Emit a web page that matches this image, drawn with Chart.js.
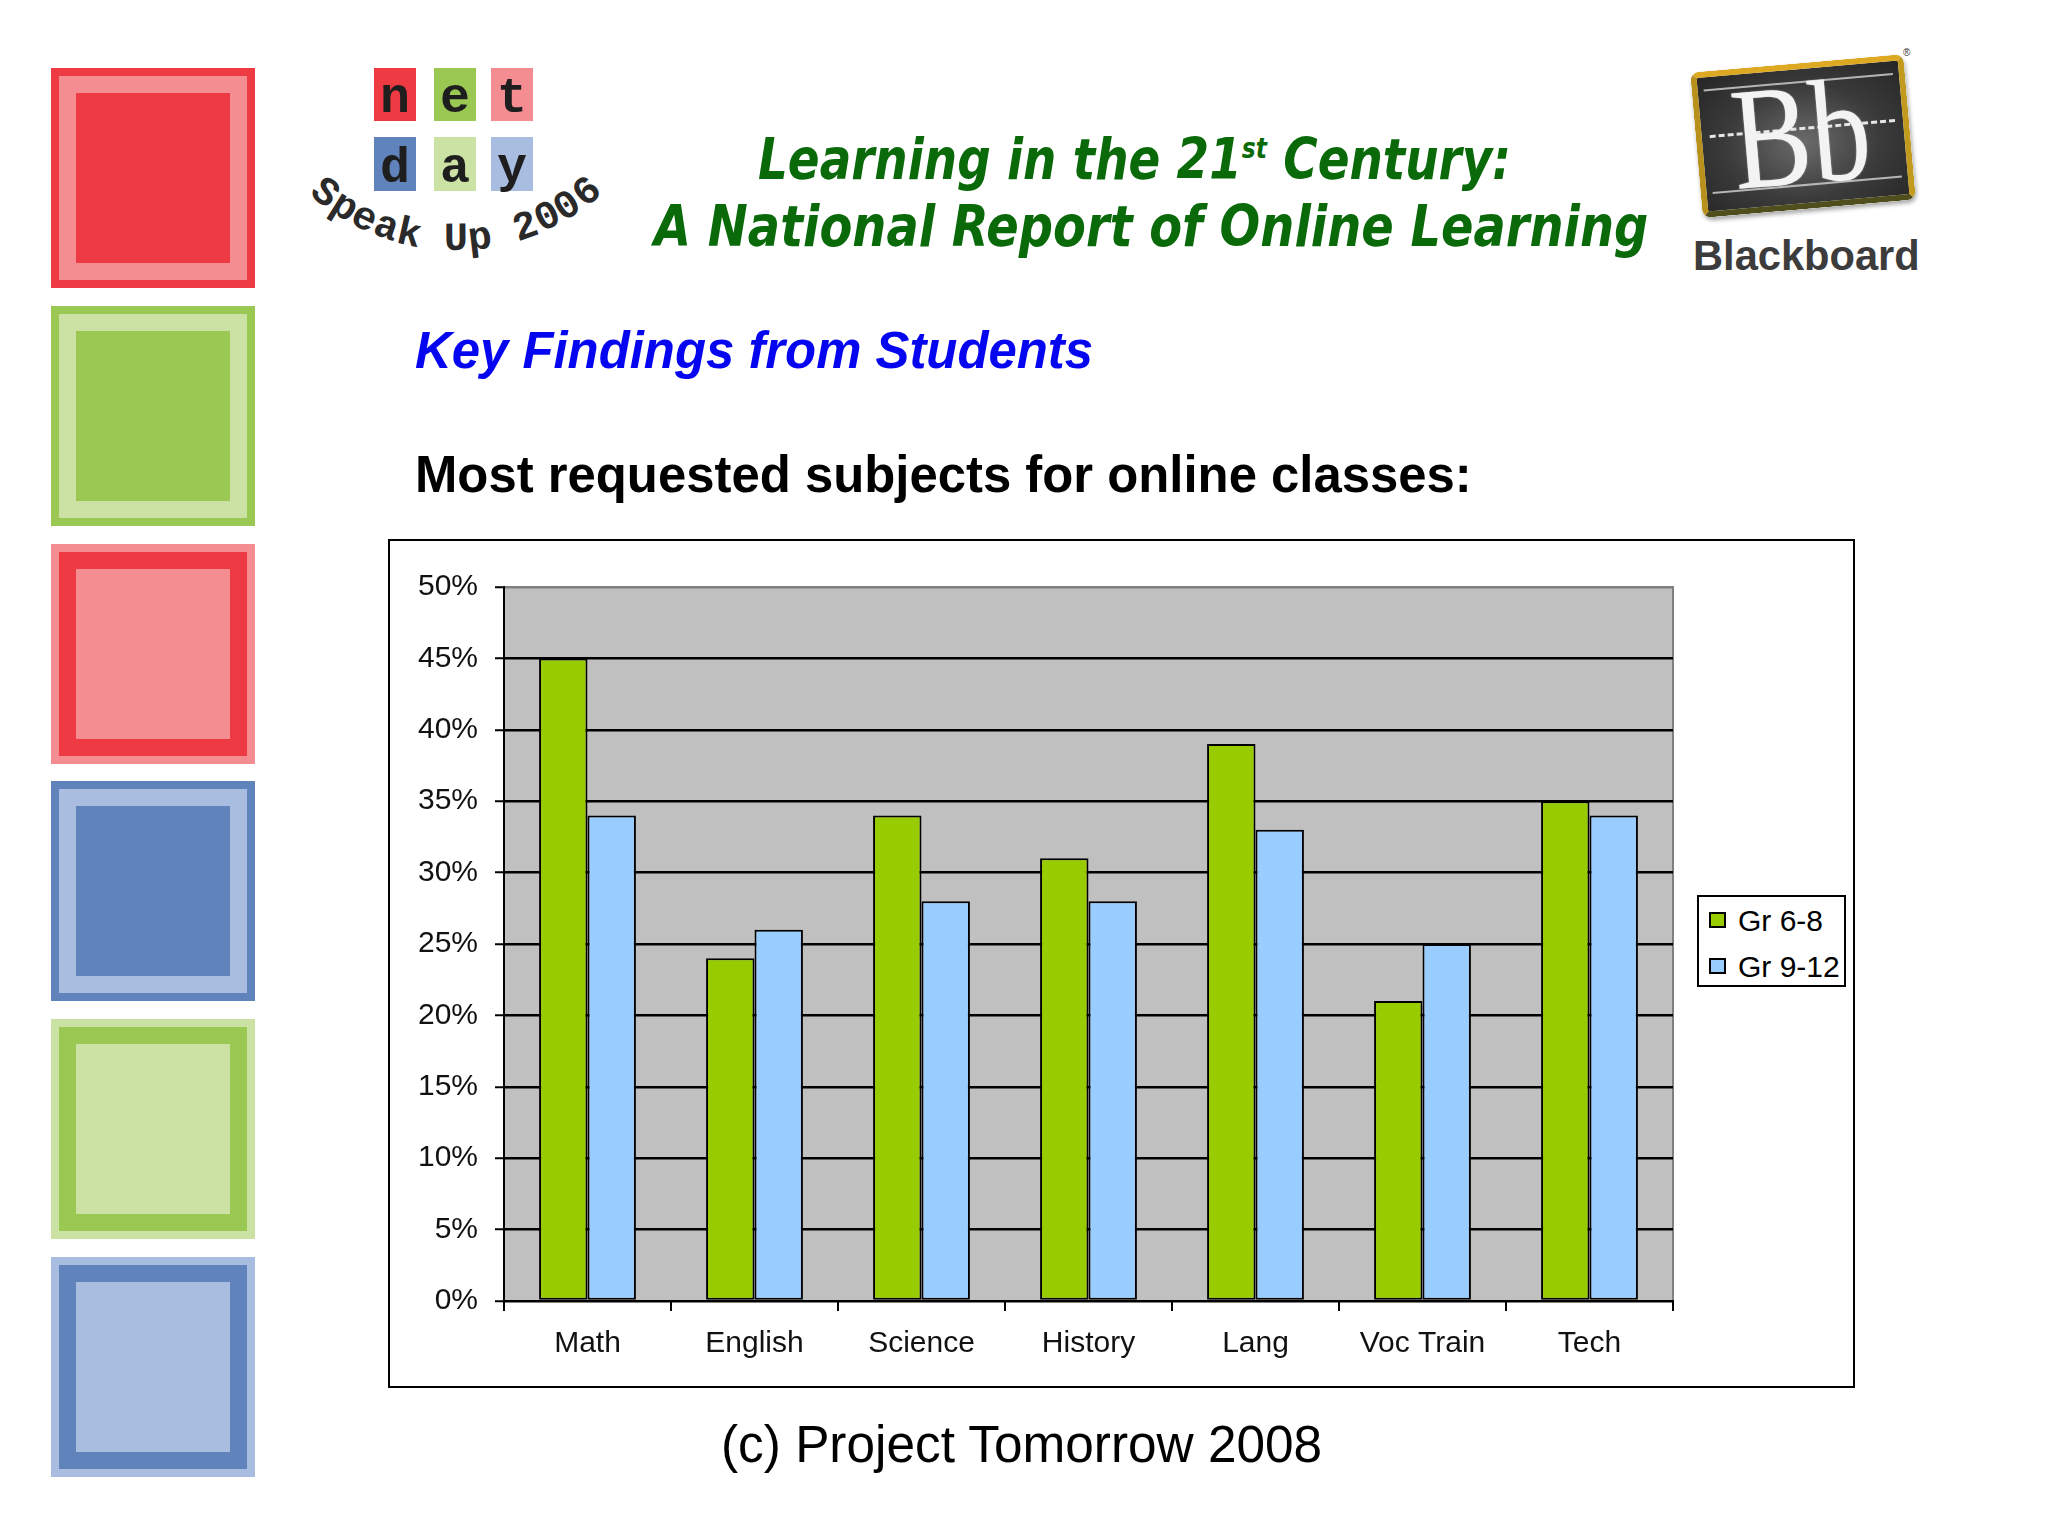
<!DOCTYPE html>
<html><head><meta charset="utf-8">
<script src="https://cdn.jsdelivr.net/npm/chart.js@4.4.1/dist/chart.umd.min.js"></script>
<style>
html,body{margin:0;padding:0;background:#fff;}
#page{position:relative;width:2048px;height:1536px;overflow:hidden;background:#fff;font-family:"Liberation Sans",Arial,sans-serif;}
.sq{position:absolute;box-sizing:border-box;width:188px;height:204px;left:59px;}
.box{position:absolute;width:42px;height:53px;}
.txt{position:absolute;white-space:nowrap;line-height:1;}
.nd{font-family:"Liberation Mono","Courier New",monospace;font-weight:bold;font-size:50px;color:#1e1e1e;}
.arc{position:absolute;white-space:nowrap;line-height:1;font-family:"Liberation Mono","Courier New",monospace;font-weight:bold;font-size:40px;color:#2a2a2a;}
#chartBox{position:absolute;left:388px;top:539px;width:1467px;height:849px;border:2px solid #000;box-sizing:border-box;background:#fff;}
#chart{position:absolute;left:0;top:0;}
#legend{position:absolute;left:1697px;top:895px;width:149px;height:92px;border:2px solid #000;box-sizing:border-box;background:#fff;}
.lgsw{position:absolute;width:17px;height:16px;border:2px solid #000;box-sizing:border-box;}
#board{position:absolute;left:1696px;top:63px;width:214px;height:146px;box-sizing:border-box;border:6px solid;border-color:#DDA923 #C29A1E #4F4E1C #B8901C;border-radius:9px;background:radial-gradient(ellipse at 50% 55%,#6b6b6b 0%,#3a3a3a 55%,#262626 100%);transform:rotate(-5deg);box-shadow:1px 3px 4px rgba(0,0,0,0.35);}
.bline{position:absolute;left:6px;right:6px;height:2px;background:#b5b5b5;}
</style></head>
<body><div id="page">

<div class="sq" style="top:76px;background:#EE3A43;border:17px solid #F48D92;outline:8px solid #EE3A43"></div>
<div class="sq" style="top:314px;background:#9BC853;border:17px solid #CCE2A5;outline:8px solid #9BC853"></div>
<div class="sq" style="top:552px;background:#F48D92;border:17px solid #EE3A43;outline:8px solid #F48D92"></div>
<div class="sq" style="top:789px;background:#5F83BA;border:17px solid #A9BDE0;outline:8px solid #5F83BA"></div>
<div class="sq" style="top:1027px;background:#CCE2A5;border:17px solid #9BC853;outline:8px solid #CCE2A5"></div>
<div class="sq" style="top:1265px;background:#A9BDE0;border:17px solid #5F83BA;outline:8px solid #A9BDE0"></div>

<div class="box" style="left:374px;top:68px;background:#EE3A43"></div>
<div class="box" style="left:434px;top:68px;background:#9BC853"></div>
<div class="box" style="left:491px;top:68px;background:#F48D92"></div>
<div class="box" style="left:374px;top:137px;height:54px;background:#5F83BA"></div>
<div class="box" style="left:434px;top:137px;height:54px;background:#CCE2A5"></div>
<div class="box" style="left:491px;top:137px;height:54px;background:#A9BDE0"></div>
<div class="txt nd" id="nd_n">n</div>
<div class="txt nd" id="nd_e">e</div>
<div class="txt nd" id="nd_t">t</div>
<div class="txt nd" id="nd_d">d</div>
<div class="txt nd" id="nd_a">a</div>
<div class="txt nd" id="nd_y">y</div>
<div id="arcText"></div>

<div class="txt" id="title1" style="font-family:'DejaVu Sans',sans-serif;font-weight:bold;font-style:italic;font-size:57px;color:#0A6A0A">Learning in the 21<span style="font-size:0.5em;vertical-align:0.75em">st</span> Century:</div>
<div class="txt" id="title2" style="font-family:'DejaVu Sans',sans-serif;font-weight:bold;font-style:italic;font-size:57px;color:#0A6A0A">A National Report of Online Learning</div>

<div id="board">
  <div class="bline" style="top:12px"></div>
  <div class="bline" style="top:115px"></div>
  <div style="position:absolute;left:8px;right:8px;top:58px;height:0;border-top:3px dashed #e6e6e6"></div>
  <div class="txt" id="bb" style="font-family:'Liberation Serif','DejaVu Serif',serif;font-size:146px;color:#f3f3f3;text-shadow:0 0 2px rgba(255,255,255,0.5)">Bb</div>
</div>
<div class="txt" style="left:1903px;top:48px;font-size:10px;color:#333">®</div>
<div class="txt" id="bbword" style="font-weight:bold;font-size:42px;color:#3c3c3c">Blackboard</div>

<div class="txt" id="keyf" style="font-weight:bold;font-style:italic;font-size:51px;color:#0505F0">Key Findings from Students</div>
<div class="txt" id="most" style="font-weight:bold;font-size:52px;color:#000">Most requested subjects for online classes:</div>

<div id="chartBox"><canvas id="chart" width="1463" height="845" style="width:1463px;height:845px"></canvas></div>
<div id="legend"></div>

<div class="txt" id="footer" style="font-size:51px;color:#000">(c) Project Tomorrow 2008</div>
</div>

<script>
// ---- data ----
const categories = ['Math', 'English', 'Science', 'History', 'Lang', 'Voc Train', 'Tech'];
const seriesNames = ['Gr 6-8', 'Gr 9-12'];
const gr6to8 = [45, 24, 34, 31, 39, 21, 35];
const gr9to12 = [34, 26, 28, 28, 33, 25, 34];
const yTickValues = [0, 5, 10, 15, 20, 25, 30, 35, 40, 45, 50];

// ---- text placement helper ----
function place(el, x, baseline, width, align) {
  el.style.left = '0px'; el.style.top = '0px'; el.style.transform = 'none';
  const probe = document.createElement('span');
  probe.style.cssText = 'display:inline-block;width:0;height:0;vertical-align:baseline';
  el.appendChild(probe);
  const r = el.getBoundingClientRect();
  const base = probe.getBoundingClientRect().top - r.top;
  const w = el.offsetWidth;
  const sx = width ? width / w : 1;
  el.style.transformOrigin = '0 0';
  el.style.transform = 'scaleX(' + sx + ')';
  const left = align === 'center' ? x - w * sx / 2 : x;
  el.style.left = left + 'px';
  el.style.top = (baseline - base) + 'px';
}

place(document.getElementById('title1'), 758, 179, 753);
place(document.getElementById('title2'), 654, 246, 994);
place(document.getElementById('keyf'), 415, 368, 678);
place(document.getElementById('most'), 415, 492, 1057);
place(document.getElementById('footer'), 721, 1462, 601);
place(document.getElementById('bbword'), 1693, 270, 227);
place(document.getElementById('bb'), 30, 114, 138);

[['nd_n',395,112],['nd_e',455,112],['nd_t',512,112],['nd_d',395,182],['nd_a',455,182],['nd_y',512,182]]
  .forEach(([id,cx,bl]) => place(document.getElementById(id), cx, bl, null, 'center'));

// curved "Speak Up 2006"
(function(){
  const s = 'Speak Up 2006';
  const cx = 455, cy = 30, r = 210, a0 = 128.5, step = 6.47;
  const host = document.getElementById('arcText');
  for (let i = 0; i < s.length; i++) {
    if (s[i] === ' ') continue;
    const ang = (a0 - step * i) * Math.PI / 180;
    const x = cx + r * Math.cos(ang), y = cy + r * Math.sin(ang);
    const sp = document.createElement('div');
    sp.className = 'arc';
    sp.textContent = s[i];
    host.appendChild(sp);
    const w = sp.offsetWidth, h = sp.offsetHeight;
    sp.style.left = (x - w / 2) + 'px';
    sp.style.top = (y - h / 2) + 'px';
    sp.style.transform = 'rotate(' + (a0 - step * i - 90) + 'deg)';
  }
})();

// ---- chart ----
const plotBg = {
  id: 'plotBg',
  beforeDraw(chart) {
    const {ctx, chartArea: {left, top, right, bottom}} = chart;
    ctx.save();
    ctx.fillStyle = '#C0C0C0';
    ctx.fillRect(left, top, right - left, bottom - top);
    ctx.strokeStyle = '#808080';
    ctx.lineWidth = 2;
    ctx.beginPath();
    ctx.moveTo(left, top); ctx.lineTo(right, top); ctx.lineTo(right, bottom);
    ctx.stroke();
    ctx.restore();
  }
};

const tickFont = {family: '"Liberation Sans", Arial, sans-serif', size: 30};

const chart = new Chart(document.getElementById('chart'), {
  type: 'bar',
  data: {
    labels: categories,
    datasets: [
      {label: seriesNames[0], data: gr6to8, backgroundColor: '#99CC00', borderColor: '#000', borderWidth: 2, borderSkipped: false, categoryPercentage: 0.58, barPercentage: 1.0},
      {label: seriesNames[1], data: gr9to12, backgroundColor: '#99CCFF', borderColor: '#000', borderWidth: 2, borderSkipped: false, categoryPercentage: 0.58, barPercentage: 1.0}
    ]
  },
  options: {
    responsive: false,
    animation: false,
    devicePixelRatio: 1,
    layout: {padding: {top: 46, right: 180, left: 0, bottom: 0}},
    plugins: {legend: {display: false}, tooltip: {enabled: false}},
    scales: {
      x: {
        grid: {display: true, drawOnChartArea: false, drawTicks: true, tickLength: 10, color: '#000', lineWidth: 2, offset: true},
        border: {display: true, color: '#000', width: 2},
        ticks: {font: tickFont, color: '#111', padding: 15, maxRotation: 0},
        afterFit(s) { s.height = 85; }
      },
      y: {
        min: yTickValues[0],
        max: yTickValues[yTickValues.length - 1],
        afterBuildTicks(s) { s.ticks = yTickValues.map(v => ({value: v})); },
        ticks: {font: tickFont, color: '#111', padding: 17, callback: v => v + '%'},
        grid: {color: c => (c.tick && c.tick.value === 50) ? '#808080' : '#000', lineWidth: 2.5, tickLength: 9, tickColor: '#000', tickWidth: 2},
        border: {display: true, color: '#000', width: 2},
        afterFit(s) { s.width = 114; }
      }
    }
  },
  plugins: [plotBg]
});

// ---- legend from datasets ----
(function(){
  const lg = document.getElementById('legend');
  const baselines = [931, 977];
  chart.data.datasets.forEach((ds, i) => {
    const sw = document.createElement('div');
    sw.className = 'lgsw';
    sw.style.background = ds.backgroundColor;
    sw.style.left = (1709 - 1697 - 2) + 'px';
    sw.style.top = (baselines[i] - 19 - 895 - 2) + 'px';
    lg.appendChild(sw);
    const t = document.createElement('div');
    t.className = 'txt';
    t.style.fontSize = '30px';
    t.style.color = '#000';
    t.textContent = ds.label;
    document.getElementById('page').appendChild(t);
    place(t, 1738, baselines[i], null);
  });
})();
</script>
</body></html>
